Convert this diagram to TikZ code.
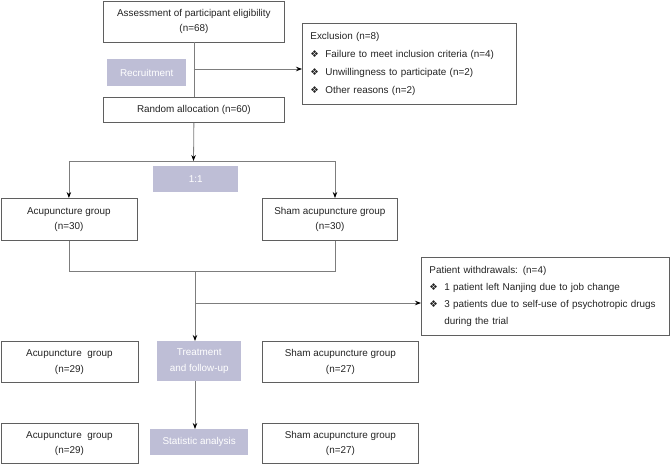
\documentclass[tikz,border=0pt]{standalone}
\usepackage{fontspec}
\setmainfont{Liberation Sans}
\newfontfamily\symfont{DejaVu Sans}
\usetikzlibrary{arrows.meta}

\definecolor{boxlilac}{RGB}{190,190,214}
\definecolor{linegray}{RGB}{125,125,125}
\definecolor{edgegray}{RGB}{95,95,95}
\definecolor{txtgray}{RGB}{35,35,35}

\newcommand{\itm}{\makebox[15pt][l]{\symfont\fontsize{9.5}{9.5}\selectfont ❖}}

\tikzset{
  plainbox/.style={draw=edgegray, line width=0.8pt, inner sep=0, anchor=north west, align=center, text=txtgray, font=\fontsize{9.9}{15.5}\selectfont},
  lilacbox/.style={fill=boxlilac, inner sep=0, anchor=north west, align=center, text=white, font=\fontsize{9.9}{16}\selectfont},
  listbox/.style={draw=edgegray, line width=0.8pt, inner xsep=8pt, inner ysep=0, anchor=north west, align=left, text=txtgray},
  flow/.style={draw=linegray, line width=0.8pt},
  flowarrow/.style={flow, -{Stealth[length=6pt,width=4.5pt,black]}}
}

\begin{document}
\begin{tikzpicture}[x=1pt,y=-1pt]
  \useasboundingbox (0,0) rectangle (670,464);

  \node[plainbox,minimum width=181pt,minimum height=41pt] (assess) at (103,0.5) {Assessment of participant eligibility\\(n=68)};
  \node[lilacbox,minimum width=79pt,minimum height=27pt] (recruit) at (107,59) {Recruitment};
  \node[listbox,text width=198pt,minimum height=81pt,font=\fontsize{9.9}{18}\selectfont] (excl) at (302,23)
    {Exclusion (n=8)\\\itm Failure to meet inclusion criteria (n=4)\\\itm Unwillingness to participate (n=2)\\\itm Other reasons (n=2)};
  \node[plainbox,minimum width=181pt,minimum height=25pt] (alloc) at (103,97) {Random allocation (n=60)};

  \node[lilacbox,minimum width=85pt,minimum height=26pt] (ratio) at (153,166) {1:1};
  \node[plainbox,minimum width=136pt,minimum height=42pt] (acuA) at (0.5,198) {Acupuncture group\\(n=30)};
  \node[plainbox,minimum width=135pt,minimum height=42pt] (shamA) at (262,198) {Sham acupuncture group\\(n=30)};

  \node[listbox,text width=232pt,minimum height=78pt,font=\fontsize{9.9}{16.7}\selectfont] (withdraw) at (421,257)
    {Patient withdrawals: (n=4)\\\itm 1 patient left Nanjing due to job change\\\itm 3 patients due to self-use of psychotropic drugs\\\hspace*{15pt}during the trial};

  \node[plainbox,minimum width=137pt,minimum height=41pt] (acuB) at (0.5,341) {Acupuncture\ \ group\\(n=29)};
  \node[lilacbox,minimum width=84pt,minimum height=40pt] (treat) at (157,341) {Treatment\\and follow-up};
  \node[plainbox,minimum width=156pt,minimum height=41pt] (shamB) at (262,341) {Sham acupuncture group\\(n=27)};

  \node[plainbox,minimum width=137pt,minimum height=40pt] (acuC) at (0.5,423) {Acupuncture\ \ group\\(n=29)};
  \node[lilacbox,minimum width=98pt,minimum height=26pt] (stat) at (150,429) {Statistic analysis};
  \node[plainbox,minimum width=156pt,minimum height=40pt] (shamC) at (262,423) {Sham acupuncture group\\(n=27)};

  % junction points
  \coordinate (cut1) at (193.5,69);
  \coordinate (forkM) at (193.5,161);
  \coordinate (forkR) at (335,161);
  \coordinate (joinM) at (195,271);
  \coordinate (joinR) at (335,271);
  \coordinate (cut2) at (195,303);

  \draw[flow] (assess.south) -- (alloc.north);
  \draw[flowarrow] (cut1) -- (cut1 -| excl.west);
  \draw[flowarrow] (alloc.south) -- (forkM);
  \draw[flow] (acuA.north |- forkM) -- (forkR);
  \draw[flowarrow] (acuA.north |- forkM) -- (acuA.north);
  \draw[flowarrow] (forkR) -- (forkR |- shamA.north);
  \draw[flow] (acuA.south) -- (acuA.south |- joinR) -- (joinR) -- (joinR |- shamA.south);
  \draw[flowarrow] (joinM) -- (joinM |- treat.north);
  \draw[flowarrow] (cut2) -- (cut2 -| withdraw.west);
  \draw[flowarrow] (joinM |- treat.south) -- (joinM |- stat.north);
\end{tikzpicture}
\end{document}
